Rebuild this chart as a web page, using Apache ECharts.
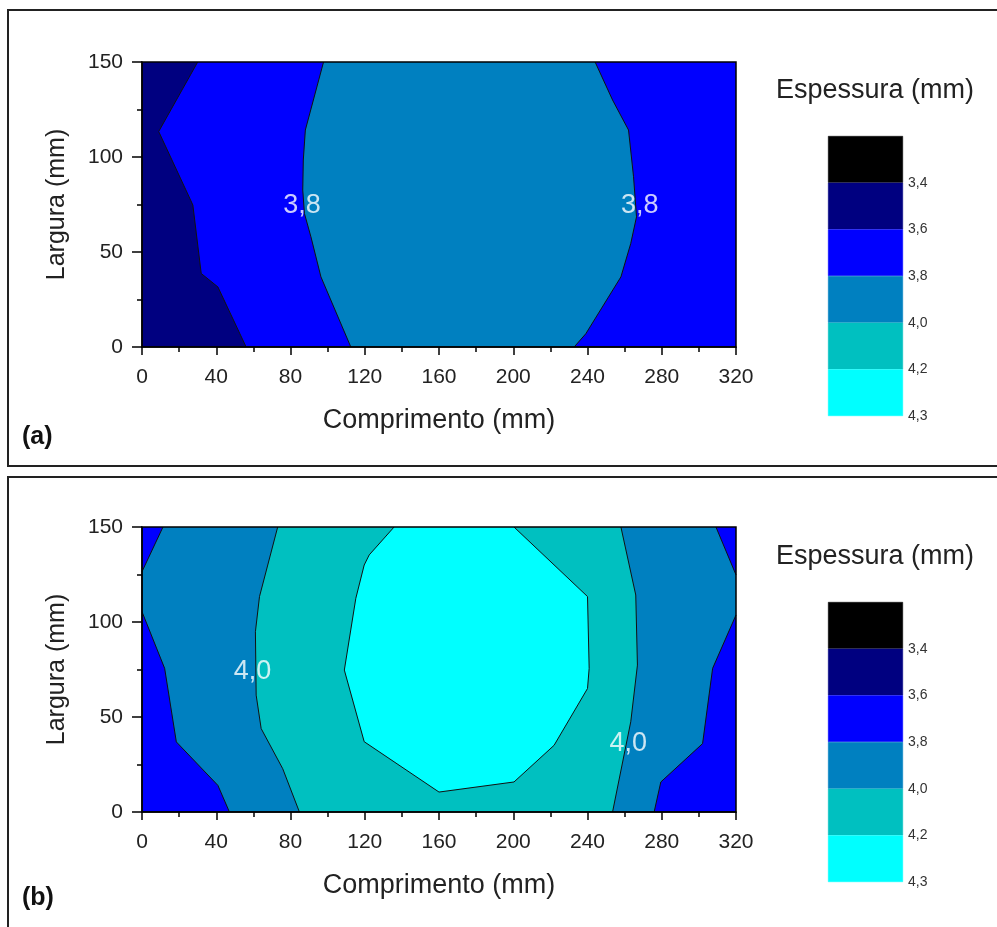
<!DOCTYPE html>
<html>
<head>
<meta charset="utf-8">
<script src="https://cdn.jsdelivr.net/npm/echarts@6/dist/echarts.min.js"></script>
<style>
  html, body { margin: 0; padding: 0; background: #fff; }
  #chart { width: 997px; height: 927px; }
</style>
</head>
<body>
<div id="chart"></div>
<script>
// legend levels (top -> bottom)
const levelLabels = ['3,4', '3,6', '3,8', '4,0', '4,2', '4,3'];
const levelColors = ['#000000', '#000080', '#0000ff', '#0080c0', '#00c0c0', '#00ffff'];

const xMax = 320;
const yMax = 150;

// (a) contour lines, [comprimento, largura]
const a36 = [[30, 150], [9, 113.4], [26.2, 77.3], [27.4, 74.7], [31.9, 38.7], [40.9, 31.6], [56.1, 0]];
const a38Left = [[97.8, 150], [88, 114.2], [86.9, 98.4], [86.6, 82.6], [87.5, 70.3], [91, 58], [96.4, 36.9], [112.5, 0]];
const a38Right = [[244.1, 150], [253.5, 130], [262.1, 114.2], [264.8, 89.6], [266.4, 68.5], [263.3, 54.5], [258, 36.9], [239.1, 7], [232.8, 0]];
const aLabelPos = [[86.2, 74.7], [268.2, 74.7]];
const aLabelText = ['3,8', '3,8'];

// (b) contour lines
const b38TopLeft = [[11.3, 150], [0, 126.5]];
const b38Left = [[0, 105.4], [12.2, 75.6], [18.5, 36.9], [40.9, 14], [47.1, 0]];
const b38Right = [[275.9, 0], [279.5, 15.8], [302, 36], [307.4, 75.6], [320, 103.7]];
const b38TopRight = [[320, 124.8], [309.2, 150]];
const b40Left = [[73.1, 150], [63.3, 113.4], [61.1, 94.9], [61.5, 61.5], [64.2, 43.9], [75.8, 22.8], [84.8, 0]];
const b40Right = [[253.5, 0], [263.3, 47.5], [266.9, 77.3], [266, 114.2], [258, 150]];
const b42 = [[135.8, 150], [122.4, 135.3], [119.7, 130], [115.2, 112.5], [109, 74.7], [119.7, 37], [160, 10.5],
  [200.4, 15.8], [222, 35.1], [240, 65], [240.9, 75.6], [240, 113.4], [200.4, 150]];
const bLabelPos = [[59.5, 73.8], [261.9, 36.1]];
const bLabelText = ['4,0', '4,0'];

const font = 'Arial, "Liberation Sans", sans-serif';
const corners = [[0, 0], [xMax, 0], [xMax, yMax], [0, yMax]];

function fill(pts, color, idx) {
  return {
    type: 'custom', xAxisIndex: idx, yAxisIndex: idx, silent: true, z: 1,
    data: pts,
    renderItem: (params, api) => {
      if (params.dataIndex !== 0) return null;
      return { type: 'polygon', shape: { points: pts.map(p => api.coord(p)) }, style: { fill: color } };
    }
  };
}

function contour(pts, idx) {
  return {
    type: 'line', xAxisIndex: idx, yAxisIndex: idx, silent: true, z: 2,
    data: pts, showSymbol: false, symbol: 'none',
    lineStyle: { color: '#111', width: 1 }
  };
}

function labels(pos, text, idx) {
  return {
    type: 'scatter', xAxisIndex: idx, yAxisIndex: idx, silent: true, z: 4,
    data: pos, symbolSize: 1, itemStyle: { color: 'transparent' },
    label: { show: true, position: 'inside', formatter: p => text[p.dataIndex], color: '#fff', fontSize: 27, fontFamily: font }
  };
}

function legendBars(idx) {
  return levelColors.map(c => ({
    type: 'bar', xAxisIndex: idx, yAxisIndex: idx, stack: 'leg' + idx, silent: true,
    data: [1], barWidth: '100%', itemStyle: { color: c, borderColor: c, borderWidth: 0.5 }
  }));
}

function plotX() {
  return {
    type: 'value', min: 0, max: xMax, interval: 40, z: 5,
    name: 'Comprimento (mm)', nameLocation: 'middle', nameGap: 60,
    nameTextStyle: { fontSize: 27, color: '#222', fontFamily: font },
    axisLine: { show: true, lineStyle: { color: '#000', width: 1.5 } },
    axisTick: { show: true, length: 8, lineStyle: { color: '#000', width: 1.5 } },
    minorTick: { show: true, splitNumber: 2, length: 5, lineStyle: { color: '#000', width: 1.5 } },
    axisLabel: { fontSize: 21, color: '#222', margin: 20, fontFamily: font },
    splitLine: { show: false }
  };
}

function plotY() {
  return {
    type: 'value', min: 0, max: yMax, interval: 50, z: 5,
    name: 'Largura (mm)', nameLocation: 'middle', nameGap: 72, nameRotate: 90,
    nameTextStyle: { fontSize: 25, color: '#222', fontFamily: font },
    axisLine: { show: true, lineStyle: { color: '#000', width: 1.5 } },
    axisTick: { show: true, length: 10, lineStyle: { color: '#000', width: 1.5 } },
    minorTick: { show: true, splitNumber: 2, length: 5, lineStyle: { color: '#000', width: 1.5 } },
    axisLabel: { fontSize: 21, color: '#222', margin: 19, fontFamily: font },
    splitLine: { show: false }
  };
}

function legX() {
  return { type: 'category', data: ['e'], show: false };
}

function legY() {
  return {
    type: 'value', min: 0, max: levelLabels.length, interval: 1, inverse: true, position: 'right',
    axisLine: { show: false }, axisTick: { show: false }, splitLine: { show: false },
    axisLabel: { fontSize: 14, color: '#333', margin: 5, padding: [8, 0, 0, 0], fontFamily: font, formatter: v => (v > 0 ? levelLabels[v - 1] : '') }
  };
}

const myChart = echarts.init(document.getElementById('chart'));

const option = {
  animation: false,
  backgroundColor: '#fff',
  graphic: [
    { type: 'rect', shape: { x: 8, y: 10, width: 1000, height: 456 }, style: { fill: 'none', stroke: '#222', lineWidth: 2 } },
    { type: 'rect', shape: { x: 8, y: 477, width: 1000, height: 500 }, style: { fill: 'none', stroke: '#222', lineWidth: 2 } }
  ],
  title: [
    { text: 'Espessura (mm)', left: 776, top: 77, padding: 0, textStyle: { fontSize: 27, fontWeight: 'normal', color: '#222', fontFamily: font } },
    { text: 'Espessura (mm)', left: 776, top: 543, padding: 0, textStyle: { fontSize: 27, fontWeight: 'normal', color: '#222', fontFamily: font } },
    { text: '(a)', left: 22, top: 425, padding: 0, textStyle: { fontSize: 25, fontWeight: 'bold', color: '#111', fontFamily: font } },
    { text: '(b)', left: 22, top: 886, padding: 0, textStyle: { fontSize: 25, fontWeight: 'bold', color: '#111', fontFamily: font } }
  ],
  grid: [
    { left: 142, top: 62, width: 594, height: 285, show: true, borderColor: '#000', borderWidth: 1.5, backgroundColor: 'transparent', z: 5 },
    { left: 142, top: 527, width: 594, height: 285, show: true, borderColor: '#000', borderWidth: 1.5, backgroundColor: 'transparent', z: 5 },
    { left: 828, top: 136, width: 75, height: 280 },
    { left: 828, top: 602, width: 75, height: 280 }
  ],
  xAxis: [
    Object.assign(plotX(), { gridIndex: 0 }),
    Object.assign(plotX(), { gridIndex: 1 }),
    Object.assign(legX(), { gridIndex: 2 }),
    Object.assign(legX(), { gridIndex: 3 })
  ],
  yAxis: [
    Object.assign(plotY(), { gridIndex: 0 }),
    Object.assign(plotY(), { gridIndex: 1 }),
    Object.assign(legY(), { gridIndex: 2 }),
    Object.assign(legY(), { gridIndex: 3 })
  ],
  series: [
    // (a)
    fill(corners, levelColors[1], 0),
    fill(a36.concat([[xMax, 0], [xMax, yMax]]), levelColors[2], 0),
    fill(a38Left.concat(a38Right.slice().reverse()), levelColors[3], 0),
    contour(a36, 0),
    contour(a38Left, 0),
    contour(a38Right, 0),
    labels(aLabelPos, aLabelText, 0),
    // (b)
    fill(corners, levelColors[2], 1),
    fill(b38TopLeft.concat(b38Left, b38Right, b38TopRight), levelColors[3], 1),
    fill(b40Left.concat(b40Right), levelColors[4], 1),
    fill(b42, levelColors[5], 1),
    contour(b38TopLeft, 1),
    contour(b38Left, 1),
    contour(b38Right, 1),
    contour(b38TopRight, 1),
    contour(b40Left, 1),
    contour(b40Right, 1),
    contour(b42, 1),
    labels(bLabelPos, bLabelText, 1),
    // legends
    ...legendBars(2),
    ...legendBars(3)
  ]
};

myChart.setOption(option);
</script>
</body>
</html>
